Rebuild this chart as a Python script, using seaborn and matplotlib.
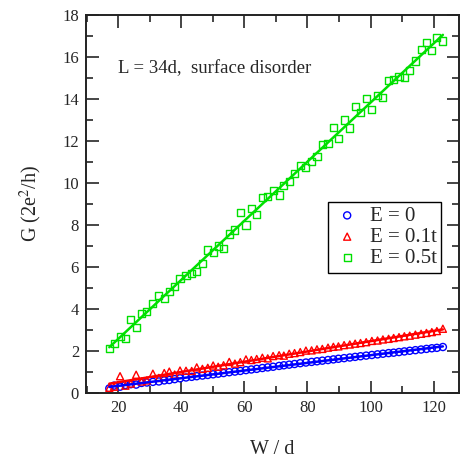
import numpy as np
import pandas as pd
import matplotlib
matplotlib.use("Agg")
import matplotlib.pyplot as plt
from matplotlib.ticker import MultipleLocator
import seaborn as sns

# data
width = [17.2, 18.7, 20.6, 22.3, 24.0, 25.7, 27.4, 29.1, 31.0, 32.9, 34.6, 36.2, 37.9, 39.6,
         41.5, 43.3, 44.9, 46.7, 48.4, 50.1, 51.7, 53.4, 55.2, 57.0, 58.7, 60.5, 62.2, 63.9,
         65.7, 67.4, 69.1, 71.0, 72.5, 74.2, 75.9, 77.7, 79.5, 81.3, 83.0, 84.7, 86.5, 88.2,
         89.8, 91.6, 93.4, 95.1, 96.8, 98.6, 100.4, 102.2, 103.9, 105.7, 107.3, 109.0, 110.7,
         112.4, 114.2, 116.0, 117.7, 119.4, 121.0, 122.9]

g_e0 = [0.22, 0.35, 0.30, 0.38, 0.42, 0.40, 0.48, 0.50, 0.53, 0.55, 0.60, 0.62, 0.66, 0.70,
        0.74, 0.77, 0.80, 0.83, 0.86, 0.89, 0.92, 0.95, 0.99, 1.02, 1.05, 1.09, 1.12, 1.15,
        1.19, 1.22, 1.25, 1.29, 1.32, 1.35, 1.38, 1.42, 1.45, 1.48, 1.51, 1.54, 1.57, 1.60,
        1.63, 1.66, 1.69, 1.72, 1.75, 1.78, 1.81, 1.84, 1.87, 1.90, 1.92, 1.95, 1.98,
        2.01, 2.04, 2.07, 2.10, 2.13, 2.15, 2.19]

g_e01 = [0.25, 0.30, 0.80, 0.35, 0.45, 0.87, 0.55, 0.60, 0.92, 0.72, 0.95, 1.02, 0.88, 1.07,
         1.06, 1.05, 1.22, 1.15, 1.20, 1.31, 1.25, 1.32, 1.48, 1.40, 1.47, 1.60, 1.57, 1.62,
         1.68, 1.65, 1.76, 1.80, 1.78, 1.87, 1.90, 1.95, 2.02, 2.03, 2.08, 2.10, 2.16, 2.20,
         2.22, 2.28, 2.31, 2.35, 2.38, 2.42, 2.48, 2.50, 2.55, 2.58, 2.62, 2.66, 2.70,
         2.73, 2.78, 2.82, 2.86, 2.90, 2.95, 3.06]

g_e05 = [2.12, 2.35, 2.70, 2.59, 3.51, 3.10, 3.79, 3.90, 4.28, 4.63, 4.50, 4.82, 5.09, 5.45,
         5.58, 5.67, 5.80, 6.18, 6.81, 6.70, 7.00, 6.89, 7.57, 7.76, 8.61, 8.00, 8.78, 8.52,
         9.30, 9.37, 9.65, 9.43, 9.90, 10.09, 10.47, 10.85, 10.74, 11.01, 11.27, 11.82, 11.86, 12.65,
         12.10, 13.00, 12.62, 13.65, 13.36, 14.04, 13.49, 14.16, 14.09, 14.86, 14.93, 15.09, 15.01,
         15.34, 15.81, 16.35, 16.70, 16.32, 16.92, 16.76]

labels = ["E = 0", "E = 0.1t", "E = 0.5t"]
series = [g_e0, g_e01, g_e05]
colors = ["#0000ff", "#ff0000", "#00e000"]
markers = ["o", "^", "s"]

sns.set_style("ticks")
plt.rcParams['font.family'] = ['Liberation Serif', 'DejaVu Serif']
plt.rcParams['mathtext.fontset'] = 'stix'

fig = plt.figure(figsize=(4.66, 4.61), dpi=100)
ax = fig.add_axes([0.1845, 0.1475, 0.8004, 0.82])

for lab, ys, col, mk in zip(labels, series, colors, markers):
    df = pd.DataFrame({"W": width, "G": ys})
    sns.regplot(data=df, x="W", y="G", ax=ax, scatter=False, ci=None,
                line_kws=dict(color=col, lw=1.8))
    sns.scatterplot(data=df, x="W", y="G", ax=ax, marker=mk, s=26,
                    facecolors="none", edgecolor=col, linewidth=1.0, label=lab)

ax.set_xlim(9.8, 128)
ax.set_ylim(0, 18)
ax.xaxis.set_major_locator(MultipleLocator(20))
ax.xaxis.set_minor_locator(MultipleLocator(10))
ax.yaxis.set_major_locator(MultipleLocator(2))
ax.yaxis.set_minor_locator(MultipleLocator(1))
ax.tick_params(which="both", direction="in", top=True, right=True, labelsize=12, width=1.2)
ax.tick_params(which="major", length=9, pad=5)
ax.tick_params(which="minor", length=5)
for s in ax.spines.values():
    s.set_linewidth(1.4)
    s.set_color("#222222")

ax.set_xlabel("W / d", fontsize=14.5, labelpad=17)
ax.set_ylabel(r"G (2e$^{2}$/h)", fontsize=14.5, labelpad=13)

ax.text(0.086, 0.847, "L = 34d,  surface disorder", transform=ax.transAxes,
        fontsize=13.5, ha="left", va="baseline")

leg = ax.legend(loc="upper left", bbox_to_anchor=(0.65, 0.505), fontsize=15,
                frameon=True, fancybox=False, edgecolor="black", framealpha=1,
                borderpad=0.2, labelspacing=0.08, handletextpad=0.4,
                handlelength=1.4, borderaxespad=0)
leg.get_frame().set_linewidth(1.0)

fig.savefig("out.png", dpi=100)
